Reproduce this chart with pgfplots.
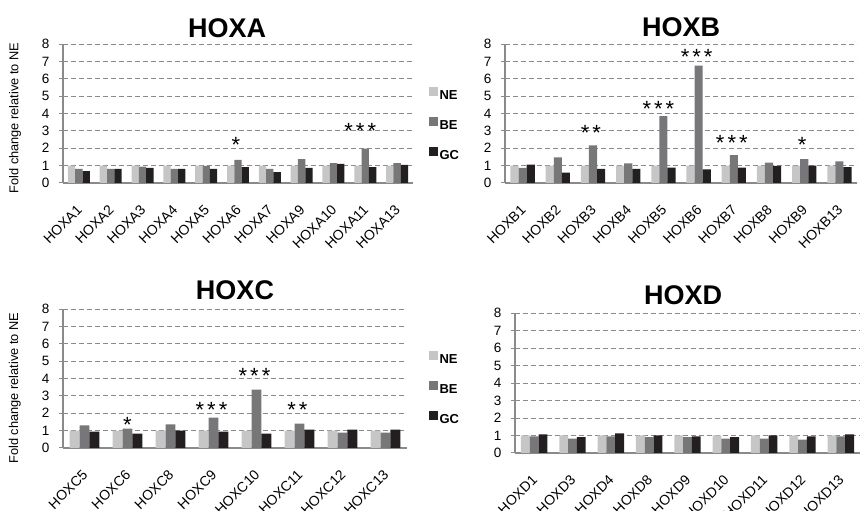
\documentclass[border=0pt]{standalone}
\usepackage{pgfplots}
\pgfplotsset{compat=1.18}
\usepackage{pgfplotstable}
\usepackage{fontspec}
\setmainfont{Liberation Sans}
\definecolor{cNE}{HTML}{C6C6C6}
\definecolor{cBE}{HTML}{77777A}
\definecolor{cGC}{HTML}{231F20}
\definecolor{axgray}{HTML}{8A8A8A}

\pgfplotstableread{
x NE BE GC
0 1.00 0.81 0.69
1 1.00 0.81 0.81
2 1.00 0.94 0.87
3 1.00 0.81 0.81
4 1.00 0.98 0.81
5 1.00 1.33 0.92
6 1.00 0.81 0.63
7 1.00 1.38 0.87
8 1.00 1.15 1.10
9 1.00 1.98 0.92
10 1.00 1.15 1.04
}\hoxa
\pgfplotstableread{
x NE BE GC
0 1.00 0.87 1.06
1 1.00 1.48 0.60
2 1.00 2.17 0.81
3 1.00 1.13 0.81
4 1.00 3.85 0.88
5 1.00 6.76 0.79
6 1.00 1.60 0.88
7 1.00 1.17 0.98
8 1.00 1.37 1.00
9 1.00 1.25 0.92
}\hoxb
\pgfplotstableread{
x NE BE GC
0 1.00 1.30 0.94
1 1.00 1.11 0.83
2 1.00 1.36 1.00
3 1.00 1.75 0.94
4 1.00 3.36 0.83
5 1.00 1.40 1.06
6 1.00 0.88 1.06
7 1.00 0.88 1.06
}\hoxc
\pgfplotstableread{
x NE BE GC
0 1.00 0.95 1.07
1 1.00 0.82 0.90
2 1.00 0.95 1.12
3 1.00 0.90 1.00
4 1.00 0.90 0.95
5 1.00 0.82 0.90
6 1.00 0.82 1.00
7 1.00 0.76 0.95
8 1.00 0.95 1.07
}\hoxd

\tikzset{astx/.style={font=\fontsize{22}{22}\selectfont, anchor=base, xshift=-2pt}}
\newcommand{\sone}{*}
\newcommand{\stwo}{*\kern3pt*}
\newcommand{\sthree}{*\kern3pt*\kern3pt*}
\pgfplotsset{
  hox/.style={
    scale only axis,
    ymin=0, ymax=8, ytick={0,...,8},
    axis x line*=bottom, axis y line*=left,
    axis line style={axgray, line width=1.8pt, -},
    ymajorgrids,
    grid style={axgray, line width=0.9pt, dash pattern=on 5pt off 3pt},
    major tick length=4pt, minor tick length=4pt, tick align=outside,
    xtick style={draw=none},
    ytick style={axgray, line width=1pt},
    minor tick style={axgray, line width=1pt},
    /pgf/number format/assume math mode=true,
    yticklabel style={font=\fontsize{13.5}{13.5}\selectfont, xshift=-6pt},
    xticklabel style={xshift=3pt, yshift=-18pt, rotate=45, anchor=east, font=\fontsize{14}{14}\selectfont},
    title style={font=\bfseries\fontsize{27}{27}\selectfont, anchor=base},
    ylabel style={font=\fontsize{12.8}{12.8}\selectfont, anchor=center},
    clip=false,
    legend style={draw=none, fill=none, font=\bfseries\fontsize{13}{13}\selectfont, row sep=13.5pt, anchor=west},
    legend cell align=left,
  },
  bNE/.style={ybar, bar width=0.23, bar shift=-0.23, fill=cNE, draw=none, forget plot},
  bBE/.style={ybar, bar width=0.23, bar shift=0, fill=cBE, draw=none, forget plot},
  bGC/.style={ybar, bar width=0.23, bar shift=0.23, fill=cGC, draw=none, forget plot},
}

\begin{document}
\begin{tikzpicture}
\path[use as bounding box] (0pt,0pt) rectangle (862pt,511pt);

% HOXA
\begin{axis}[hox, at={(63pt,328pt)}, width=350pt, height=139pt,
  xmin=-0.5, xmax=10.5, xtick={0,...,10},
  minor xtick={-0.5,0.5,...,10.5},
  xticklabels={HOXA1,HOXA2,HOXA3,HOXA4,HOXA5,HOXA6,HOXA7,HOXA9,HOXA10,HOXA11,HOXA13},
  title={HOXA}, title style={at={(axis description cs:0.469,1)}, yshift=1pt},
  ylabel={Fold change relative to NE},
  ylabel style={at={(axis description cs:-0.137,0.468)}},
  legend style={at={(axis description cs:1.037,0.417)}},
]
\addplot[bNE] table[x=x,y=NE]{\hoxa};
\addplot[bBE] table[x=x,y=BE]{\hoxa};
\addplot[bGC] table[x=x,y=GC]{\hoxa};
\addlegendimage{legend image code/.code={\fill[cNE] (0pt,1pt) rectangle (8pt,9pt);}}
\addlegendentry{NE}
\addlegendimage{legend image code/.code={\fill[cBE] (0pt,1pt) rectangle (8pt,9pt);}}
\addlegendentry{BE}
\addlegendimage{legend image code/.code={\fill[cGC] (0pt,1pt) rectangle (8pt,9pt);}}
\addlegendentry{GC}
\node[astx] at (axis cs:5,1.74) {\sone};
\node[astx, xshift=-3pt] at (axis cs:9,2.54) {\sthree};
\end{axis}

% HOXB
\begin{axis}[hox, at={(505pt,328pt)}, width=352pt, height=139pt,
  xmin=-0.5, xmax=9.5, xtick={0,...,9},
  minor xtick={-0.5,0.5,...,9.5},
  xticklabels={HOXB1,HOXB2,HOXB3,HOXB4,HOXB5,HOXB6,HOXB7,HOXB8,HOXB9,HOXB13},
  title={HOXB}, title style={at={(axis description cs:0.5,1)}, yshift=2pt},
]
\addplot[bNE] table[x=x,y=NE]{\hoxb};
\addplot[bBE] table[x=x,y=BE]{\hoxb};
\addplot[bGC] table[x=x,y=GC]{\hoxb};
\node[astx] at (axis cs:2,2.43) {\stwo};
\node[astx, xshift=-3pt] at (axis cs:4,3.81) {\sthree};
\node[astx] at (axis cs:5,6.80) {\sthree};
\node[astx] at (axis cs:6,1.85) {\sthree};
\node[astx] at (axis cs:8,1.74) {\sone};
\end{axis}

% HOXC
\begin{axis}[hox, at={(63pt,63pt)}, width=344pt, height=139pt,
  xmin=-0.5, xmax=7.5, xtick={0,...,7},
  minor xtick={-0.5,0.5,...,7.5},
  xticklabels={HOXC5,HOXC6,HOXC8,HOXC9,HOXC10,HOXC11,HOXC12,HOXC13},
  title={HOXC}, title style={at={(axis description cs:0.5,1)}, yshift=4pt},
  ylabel={Fold change relative to NE},
  ylabel style={at={(axis description cs:-0.14,0.43)}},
  legend style={at={(axis description cs:1.055,0.424)}},
]
\addplot[bNE] table[x=x,y=NE]{\hoxc};
\addplot[bBE] table[x=x,y=BE]{\hoxc};
\addplot[bGC] table[x=x,y=GC]{\hoxc};
\addlegendimage{legend image code/.code={\fill[cNE] (0pt,1pt) rectangle (8pt,9pt);}}
\addlegendentry{NE}
\addlegendimage{legend image code/.code={\fill[cBE] (0pt,1pt) rectangle (8pt,9pt);}}
\addlegendentry{BE}
\addlegendimage{legend image code/.code={\fill[cGC] (0pt,1pt) rectangle (8pt,9pt);}}
\addlegendentry{GC}
\node[astx, xshift=2pt] at (axis cs:1,0.87) {\sone};
\node[astx] at (axis cs:3,1.74) {\sthree};
\node[astx] at (axis cs:4,3.69) {\sthree};
\node[astx] at (axis cs:5,1.74) {\stwo};
\end{axis}

% HOXD
\begin{axis}[hox, at={(515pt,58pt)}, width=345pt, height=140pt,
  xmin=-0.5, xmax=8.5, xtick={0,...,8},
  minor xtick={-0.5,0.5,...,8.5},
  xticklabels={HOXD1,HOXD3,HOXD4,HOXD8,HOXD9,HOXD10,HOXD11,HOXD12,HOXD13},
  title={HOXD}, title style={at={(axis description cs:0.487,1)}, yshift=3pt},
]
\addplot[bNE] table[x=x,y=NE]{\hoxd};
\addplot[bBE] table[x=x,y=BE]{\hoxd};
\addplot[bGC] table[x=x,y=GC]{\hoxd};
\end{axis}
\end{tikzpicture}
\end{document}
